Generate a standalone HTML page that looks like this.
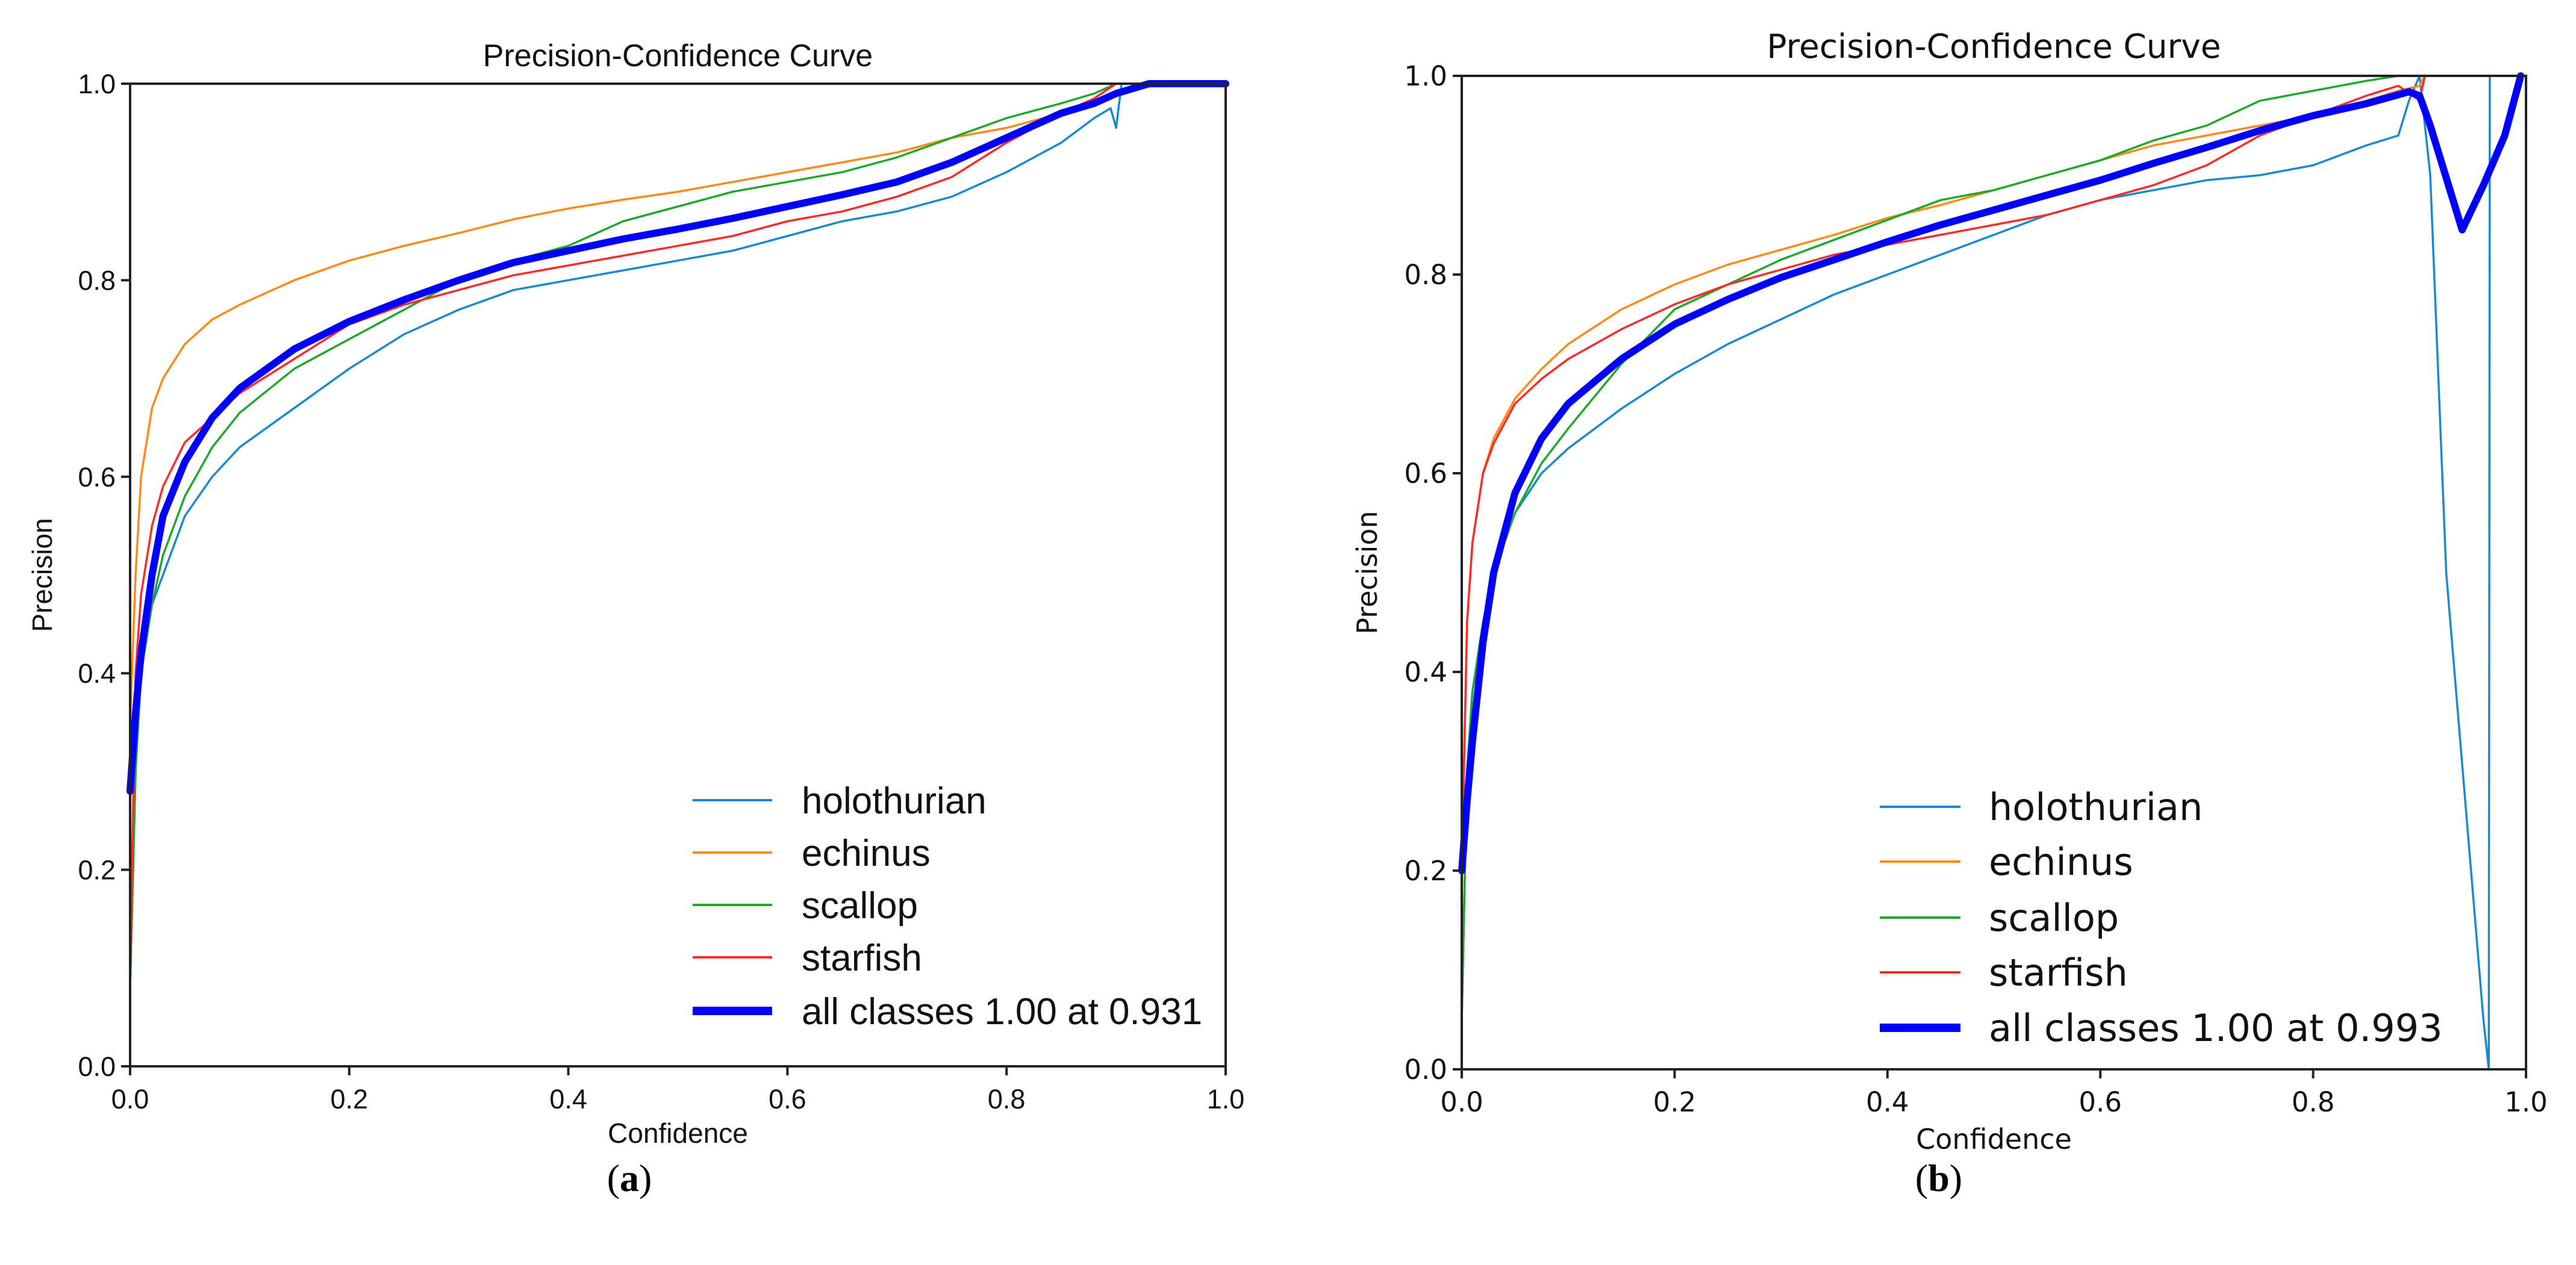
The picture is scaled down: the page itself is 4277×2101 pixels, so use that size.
<!DOCTYPE html>
<html><head><meta charset="utf-8"><style>
html,body{margin:0;padding:0;background:#fff;}
svg{display:block;}
</style></head><body>
<svg id="fig" width="4277" height="2101" viewBox="0 0 4277 2101" xmlns="http://www.w3.org/2000/svg">
<rect width="4277" height="2101" fill="#fff"/>
<g id="chartA"></g>
<g id="chartB"></g>
<text x="1045" y="1978" font-family="Liberation Serif, serif" font-size="64" text-anchor="middle">(<tspan font-weight="bold">a</tspan>)</text>
<text x="3219" y="1978" font-family="Liberation Serif, serif" font-size="64" text-anchor="middle">(<tspan font-weight="bold">b</tspan>)</text>
</svg>
<script>
const tickValues = [0, 0.2, 0.4, 0.6, 0.8, 1.0];
const tickLabels = ["0.0", "0.2", "0.4", "0.6", "0.8", "1.0"];
const seriesNames = ["holothurian", "echinus", "scallop", "starfish"];
const colors = ["#1a8ad0", "#ff8a1a", "#1fa82a", "#ff2a2a"];

// Chart A data
const aHoloX = [0,0.005,0.01,0.02,0.03,0.05,0.075,0.1,0.15,0.2,0.25,0.3,0.35,0.4,0.45,0.5,0.55,0.6,0.65,0.7,0.75,0.8,0.85,0.88,0.895,0.9,0.905,0.93,1.0];
const aHoloY = [0.08,0.3,0.4,0.47,0.5,0.56,0.6,0.63,0.67,0.71,0.745,0.77,0.79,0.8,0.81,0.82,0.83,0.845,0.86,0.87,0.885,0.91,0.94,0.965,0.975,0.955,1.0,1.0,1.0];
const aEchX = [0,0.005,0.01,0.02,0.03,0.05,0.075,0.1,0.15,0.2,0.25,0.3,0.35,0.4,0.45,0.5,0.55,0.6,0.65,0.7,0.75,0.8,0.85,0.88,0.9,0.93,1.0];
const aEchY = [0.35,0.5,0.6,0.67,0.7,0.735,0.76,0.775,0.8,0.82,0.835,0.848,0.862,0.873,0.882,0.89,0.9,0.91,0.92,0.93,0.945,0.955,0.97,0.98,0.99,1.0,1.0];
const aScaX = [0,0.005,0.01,0.02,0.03,0.05,0.075,0.1,0.15,0.2,0.25,0.3,0.35,0.4,0.45,0.5,0.55,0.6,0.65,0.7,0.75,0.8,0.85,0.88,0.9,1.0];
const aScaY = [0.08,0.3,0.4,0.47,0.52,0.58,0.63,0.665,0.71,0.74,0.77,0.8,0.82,0.835,0.86,0.875,0.89,0.9,0.91,0.925,0.945,0.965,0.98,0.99,1.0,1.0];
const aStaX = [0,0.005,0.01,0.02,0.03,0.05,0.075,0.1,0.15,0.2,0.25,0.3,0.35,0.4,0.45,0.5,0.55,0.6,0.65,0.7,0.75,0.8,0.85,0.88,0.9,1.0];
const aStaY = [0.1,0.4,0.48,0.55,0.59,0.635,0.66,0.685,0.72,0.755,0.775,0.79,0.805,0.815,0.825,0.835,0.845,0.86,0.87,0.885,0.905,0.94,0.97,0.985,1.0,1.0];
const aAllX = [0,0.005,0.01,0.02,0.03,0.05,0.075,0.1,0.15,0.2,0.25,0.3,0.35,0.4,0.45,0.5,0.55,0.6,0.65,0.7,0.75,0.8,0.85,0.88,0.9,0.93,1.0];
const aAllY = [0.28,0.36,0.42,0.5,0.56,0.615,0.66,0.69,0.73,0.758,0.78,0.8,0.818,0.83,0.842,0.852,0.863,0.875,0.887,0.9,0.92,0.945,0.97,0.98,0.99,1.0,1.0];

// Chart B data
const bHoloX = [0,0.005,0.01,0.02,0.03,0.05,0.075,0.1,0.15,0.2,0.25,0.3,0.35,0.4,0.45,0.5,0.55,0.6,0.65,0.7,0.75,0.8,0.85,0.88,0.89,0.9,0.91,0.925,0.96,0.965,0.966,1.0];
const bHoloY = [0.05,0.3,0.38,0.45,0.5,0.56,0.6,0.625,0.665,0.7,0.73,0.755,0.78,0.8,0.82,0.84,0.86,0.875,0.885,0.895,0.9,0.91,0.93,0.94,0.975,1.0,0.9,0.5,0.05,0.0,1.0,1.0];
const bEchX = [0,0.005,0.01,0.02,0.03,0.05,0.075,0.1,0.15,0.2,0.25,0.3,0.35,0.4,0.45,0.5,0.55,0.6,0.65,0.7,0.75,0.8,0.85,0.88,0.9,0.905];
const bEchY = [0.2,0.45,0.53,0.6,0.635,0.675,0.705,0.73,0.765,0.79,0.81,0.825,0.84,0.857,0.87,0.885,0.9,0.915,0.93,0.94,0.95,0.96,0.975,0.985,0.99,1.0];
const bScaX = [0,0.005,0.01,0.02,0.03,0.05,0.075,0.1,0.15,0.2,0.25,0.3,0.35,0.4,0.45,0.5,0.55,0.6,0.65,0.7,0.75,0.8,0.85,0.88];
const bScaY = [0.05,0.3,0.38,0.45,0.5,0.56,0.61,0.645,0.71,0.765,0.79,0.815,0.835,0.855,0.875,0.885,0.9,0.915,0.935,0.95,0.975,0.985,0.995,1.0];
const bStaX = [0,0.005,0.01,0.02,0.03,0.05,0.075,0.1,0.15,0.2,0.25,0.3,0.35,0.4,0.45,0.5,0.55,0.6,0.65,0.7,0.75,0.8,0.85,0.88,0.9,0.905];
const bStaY = [0.2,0.45,0.53,0.6,0.63,0.67,0.695,0.715,0.745,0.77,0.79,0.805,0.82,0.83,0.84,0.85,0.86,0.875,0.89,0.91,0.94,0.96,0.98,0.99,0.975,1.0];
const bAllX = [0,0.005,0.01,0.02,0.03,0.05,0.075,0.1,0.15,0.2,0.25,0.3,0.35,0.4,0.45,0.5,0.55,0.6,0.65,0.7,0.75,0.8,0.85,0.89,0.9,0.91,0.94,0.96,0.98,0.995];
const bAllY = [0.2,0.27,0.33,0.43,0.5,0.58,0.635,0.67,0.715,0.75,0.775,0.797,0.815,0.833,0.85,0.865,0.88,0.895,0.912,0.928,0.945,0.96,0.972,0.984,0.98,0.95,0.845,0.89,0.94,1.0];

const NS = "http://www.w3.org/2000/svg";
function mk(tag, attrs, parent){
  const e = document.createElementNS(NS, tag);
  for (const k in attrs) e.setAttribute(k, attrs[k]);
  parent.appendChild(e);
  return e;
}

function drawChart(g, cfg){
  const sx = v => cfg.L + v*(cfg.R-cfg.L);
  const sy = v => cfg.B - v*(cfg.B-cfg.T);
  const font = cfg.font;
  cfg.series.forEach((s, i) => {
    const d = s.x.map((xv, j) => (j ? "L" : "M") + sx(xv).toFixed(1) + "," + sy(s.y[j]).toFixed(1)).join("");
    const p = mk("path", {d: d, fill: "none", stroke: colors[i], "stroke-width": 3.5, "stroke-linejoin": "round"}, g);
    
    
  });
  const dAll = cfg.all.x.map((xv, j) => (j ? "L" : "M") + sx(xv).toFixed(1) + "," + sy(cfg.all.y[j]).toFixed(1)).join("");
  const pa = mk("path", {d: dAll, fill: "none", stroke: "#0000ff", "stroke-width": 12, "stroke-linejoin": "round", "stroke-linecap": "round"}, g);
  
  
  const fr = mk("rect", {x: cfg.L, y: cfg.T, width: cfg.R-cfg.L, height: cfg.B-cfg.T, fill: "none", stroke: "#222", "stroke-width": 4}, g);
  
  
  tickValues.forEach((v, i) => {
    const tx = mk("line", {x1: sx(v), x2: sx(v), y1: cfg.B, y2: cfg.B+15, stroke: "#222", "stroke-width": 4}, g);
    
    
    const lx = mk("text", {x: sx(v), y: cfg.B+70, "text-anchor": "middle", "font-family": font, "font-size": 45, fill: "#111"}, g);
    lx.textContent = tickLabels[i];
    
    
    const ty = mk("line", {x1: cfg.L-15, x2: cfg.L, y1: sy(v), y2: sy(v), stroke: "#222", "stroke-width": 4}, g);
    
    
    const ly = mk("text", {x: cfg.L-24, y: sy(v)+16, "text-anchor": "end", "font-family": font, "font-size": 45, fill: "#111"}, g);
    ly.textContent = tickLabels[i];
    
    
  });
  const title = mk("text", {x: (cfg.L+cfg.R)/2, y: cfg.titleY, "text-anchor": "middle", "font-family": font, "font-size": cfg.titleSize, fill: "#111"}, g);
  title.textContent = "Precision-Confidence Curve";
  
  
  const xl = mk("text", {x: (cfg.L+cfg.R)/2, y: cfg.xlabY, "text-anchor": "middle", "font-family": font, "font-size": 46, fill: "#111"}, g);
  xl.textContent = "Confidence";
  
  
  const ym = (cfg.T+cfg.B)/2;
  const yl = mk("text", {x: cfg.ylabX, y: ym, "text-anchor": "middle", "font-family": font, "font-size": 46, fill: "#111", transform: "rotate(-90 " + cfg.ylabX + " " + ym + ")"}, g);
  yl.textContent = "Precision";
  
  
  const labels = seriesNames.concat([cfg.allLabel]);
  const lcolors = colors.concat(["#0000ff"]);
  labels.forEach((lab, i) => {
    const yy = cfg.legRows[i];
    const ln = mk("line", {x1: cfg.legX1, x2: cfg.legX2, y1: yy, y2: yy, stroke: lcolors[i], "stroke-width": i === 4 ? 14 : 4}, g);
    
    
    const t = mk("text", {x: cfg.legTX, y: yy+22, "font-family": font, "font-size": cfg.legSize, fill: "#111"}, g);
    t.textContent = lab;
    
    
  });
}

drawChart(document.getElementById("chartA"), {
  L: 216, R: 2035, T: 139, B: 1771, font: "Liberation Sans, sans-serif",
  titleY: 110, titleSize: 52, xlabY: 1898, ylabX: 86, legSize: 62,
  legX1: 1150, legX2: 1282, legTX: 1331, legRows: [1329, 1416, 1503, 1590, 1679],
  allLabel: "all classes 1.00 at 0.931",
  series: [{x: aHoloX, y: aHoloY}, {x: aEchX, y: aEchY}, {x: aScaX, y: aScaY}, {x: aStaX, y: aStaY}],
  all: {x: aAllX, y: aAllY}
});
drawChart(document.getElementById("chartB"), {
  L: 2427, R: 4194, T: 126, B: 1776, font: "DejaVu Sans, sans-serif",
  titleY: 96, titleSize: 55, xlabY: 1908, ylabX: 2286, legSize: 62,
  legX1: 3121, legX2: 3255, legTX: 3302, legRows: [1340, 1431, 1524, 1615, 1707],
  allLabel: "all classes 1.00 at 0.993",
  series: [{x: bHoloX, y: bHoloY}, {x: bEchX, y: bEchY}, {x: bScaX, y: bScaY}, {x: bStaX, y: bStaY}],
  all: {x: bAllX, y: bAllY}
});
</script>
</body></html>
